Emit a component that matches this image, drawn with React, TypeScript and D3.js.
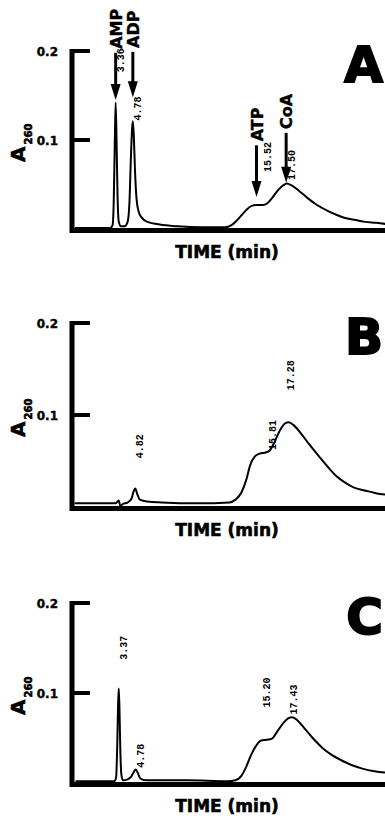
import * as d3 from 'd3';

const W = 385;
const H = 820;

// retention time (min), absorbance at 260 nm
const TRACE_A: [number, number][] = [
    [0, 0.001], [2.9, 0.001], [3.1, 0.004], [3.2, 0.03], [3.28, 0.09], [3.36, 0.142],
    [3.44, 0.095], [3.52, 0.035], [3.62, 0.008], [3.8, 0.003], [4.1, 0.003], [4.35, 0.008],
    [4.5, 0.03], [4.62, 0.08], [4.72, 0.113], [4.78, 0.121], [4.86, 0.105], [4.96, 0.065],
    [5.08, 0.035], [5.25, 0.02], [5.5, 0.013], [6.0, 0.008], [7.0, 0.005], [8.5, 0.003],
    [10.5, 0.002], [12.4, 0.002], [12.9, 0.004], [13.4, 0.01], [13.8, 0.016], [14.2, 0.022],
    [14.6, 0.026], [15.0, 0.027], [15.5, 0.027], [15.9, 0.029], [16.3, 0.035], [16.8, 0.044],
    [17.2, 0.049], [17.5, 0.051], [17.9, 0.049], [18.5, 0.043], [19.2, 0.035], [20.0, 0.027],
    [20.8, 0.021], [21.6, 0.016], [22.4, 0.012], [23.2, 0.01], [24.0, 0.008], [24.9, 0.007],
    [26, 0.005],
];

const TRACE_B: [number, number][] = [
    [-0.2, 0.004], [3.2, 0.004], [3.45, 0.007], [3.58, 0.001], [3.75, 0.003], [4.2, 0.005],
    [4.5, 0.009], [4.68, 0.017], [4.82, 0.02], [4.98, 0.014], [5.2, 0.008], [5.8, 0.006],
    [7, 0.005], [10, 0.004], [12.6, 0.005], [13.1, 0.008], [13.6, 0.016], [14.0, 0.03],
    [14.3, 0.045], [14.7, 0.055], [15.1, 0.058], [15.5, 0.059], [15.9, 0.061], [16.3, 0.07],
    [16.8, 0.084], [17.2, 0.091], [17.5, 0.092], [17.9, 0.089], [18.5, 0.08], [19.2, 0.068],
    [20.0, 0.055], [20.7, 0.044], [21.4, 0.034], [22.1, 0.027], [22.9, 0.021], [23.8, 0.018],
    [24.7, 0.015], [26, 0.013],
];

const TRACE_C: [number, number][] = [
    [-0.2, 0.002], [3.0, 0.002], [3.15, 0.006], [3.24, 0.04], [3.31, 0.085], [3.37, 0.105],
    [3.43, 0.08], [3.5, 0.035], [3.58, 0.01], [3.7, 0.003], [4.1, 0.004], [4.4, 0.007],
    [4.6, 0.012], [4.78, 0.015], [4.95, 0.011], [5.15, 0.005], [5.6, 0.003], [7, 0.003],
    [9, 0.003], [12.4, 0.002], [13.0, 0.003], [13.5, 0.008], [13.9, 0.018], [14.3, 0.031],
    [14.7, 0.041], [15.1, 0.047], [15.6, 0.048], [16.0, 0.049], [16.5, 0.058], [17.0, 0.067],
    [17.4, 0.072], [17.7, 0.073], [18.1, 0.07], [18.7, 0.061], [19.4, 0.05], [20.2, 0.039],
    [21.0, 0.031], [21.8, 0.025], [22.6, 0.02], [23.5, 0.016], [24.5, 0.013], [26, 0.011],
];

// printed retention-time labels: text, time, absorbance where the label starts
const PEAK_TEXT_A = ['3.36', '4.78', '15.52', '17.50'];
const PEAK_TIME_A = [3.36, 4.78, 15.52, 17.5];
const PEAK_LEVEL_A = [0.176, 0.122, 0.064, 0.055];

const PEAK_TEXT_B = ['4.82', '15.81', '17.28'];
const PEAK_TIME_B = [4.82, 15.81, 17.28];
const PEAK_LEVEL_B = [0.053, 0.062, 0.127];

const PEAK_TEXT_C = ['3.37', '4.78', '15.20', '17.43'];
const PEAK_TIME_C = [3.37, 4.78, 15.2, 17.43];
const PEAK_LEVEL_C = [0.137, 0.017, 0.084, 0.076];

// standards marked with arrows in panel A
const STD_NAMES = ['AMP', 'ADP', 'ATP', 'CoA'];
const STD_TIME = [3.36, 4.78, 15.0, 17.45];
const STD_TIP = [0.145, 0.148, 0.036, 0.052];
const STD_TAIL = [0.198, 0.199, 0.094, 0.108];

const Y_TICKS = [0.1, 0.2];
const Y_TICK_LABELS = ['0.1', '0.2'];

const SANS = '"DejaVu Sans", "Liberation Sans", sans-serif';
const MONO = '"Liberation Mono", "DejaVu Sans Mono", monospace';

const x = d3.scaleLinear().domain([0, 26]).range([75, 75 + 26 * 12.1]);

const panels = [
    { letter: 'A', top: 51, zero: 229, shift: 0, trace: TRACE_A, text: PEAK_TEXT_A, time: PEAK_TIME_A, level: PEAK_LEVEL_A, arrows: true },
    { letter: 'B', top: 323, zero: 507, shift: 2, trace: TRACE_B, text: PEAK_TEXT_B, time: PEAK_TIME_B, level: PEAK_LEVEL_B, arrows: false },
    { letter: 'C', top: 603, zero: 783, shift: 3, trace: TRACE_C, text: PEAK_TEXT_C, time: PEAK_TIME_C, level: PEAK_LEVEL_C, arrows: false },
];

function Panel({ p }: { p: (typeof panels)[number] }) {
    const y = d3.scaleLinear().domain([0, 0.2]).range([p.zero, p.top]);
    const px = (t: number) => x(t) + p.shift;
    const line = d3
        .line<[number, number]>()
        .x((d) => px(d[0]))
        .y((d) => y(d[1]))
        .curve(d3.curveMonotoneX);
    const axisX = 72;
    const axisY = y(0) + 1.5;

    return (
        <g>
            {/* axes */}
            <line x1={axisX} x2={axisX} y1={y(0.2) - 2} y2={axisY + 2.5} stroke="#000" strokeWidth={5} />
            <line x1={axisX - 2} x2={W} y1={axisY} y2={axisY} stroke="#000" strokeWidth={5} />
            {Y_TICKS.map((v, i) => (
                <g key={v}>
                    <line x1={axisX} x2={axisX + 18} y1={y(v)} y2={y(v)} stroke="#000" strokeWidth={4} />
                    <text
                        x={58}
                        y={y(v) + 5}
                        textAnchor="end"
                        fontFamily={SANS}
                        fontWeight="bold"
                        fontSize={12}
                        stroke="#000"
                        strokeWidth={0.4}
                    >
                        {Y_TICK_LABELS[i]}
                    </text>
                </g>
            ))}
            <text
                transform={`translate(25,${y(0.1) + 22}) rotate(-90)`}
                fontFamily={SANS}
                fontWeight="bold"
                fontSize={20}
                stroke="#000"
                strokeWidth={0.6}
            >
                A
                <tspan fontSize={10} dy={7} dx={2}>
                    260
                </tspan>
            </text>
            <text
                x={227}
                y={y(0) + 29}
                textAnchor="middle"
                fontFamily={SANS}
                fontWeight="bold"
                fontSize={17}
                stroke="#000"
                strokeWidth={0.6}
            >
                TIME (min)
            </text>

            {/* trace */}
            <path d={line(p.trace) ?? ''} fill="none" stroke="#000" strokeWidth={2} strokeLinejoin="round" />

            {/* retention time labels */}
            {p.text.map((t, i) => (
                <text
                    key={t}
                    transform={`translate(${px(p.time[i]) + 8},${y(p.level[i])}) rotate(-90)`}
                    fontFamily={MONO}
                    fontWeight="bold"
                    fontSize={10}
                >
                    {t}
                </text>
            ))}

            {/* standard arrows */}
            {p.arrows &&
                STD_NAMES.map((name, i) => {
                    const ax = px(STD_TIME[i]);
                    const tip = y(STD_TIP[i]);
                    const tail = y(STD_TAIL[i]);
                    return (
                        <g key={name}>
                            <line x1={ax} x2={ax} y1={tail} y2={tip - 14} stroke="#000" strokeWidth={3} />
                            <path d={`M${ax - 5},${tip - 16}L${ax + 5},${tip - 16}L${ax},${tip}Z`} fill="#000" />
                            <text
                                transform={`translate(${ax + 6},${tail - 4}) rotate(-90)`}
                                fontFamily={SANS}
                                fontWeight="bold"
                                fontSize={16}
                                stroke="#000"
                                strokeWidth={0.4}
                            >
                                {name}
                            </text>
                        </g>
                    );
                })}

            {/* panel letter */}
            <text
                x={383}
                y={y(0.2) + 31}
                textAnchor="end"
                fontFamily={SANS}
                fontWeight="bold"
                fontSize={50}
                stroke="#000"
                strokeWidth={2}
            >
                {p.letter}
            </text>
        </g>
    );
}

export default function App() {
    return (
        <svg
            width={W}
            height={H}
            style={{ position: 'absolute', left: 0, top: 0, background: '#fff' }}
        >
            {panels.map((p) => (
                <Panel key={p.letter} p={p} />
            ))}
        </svg>
    );
}
